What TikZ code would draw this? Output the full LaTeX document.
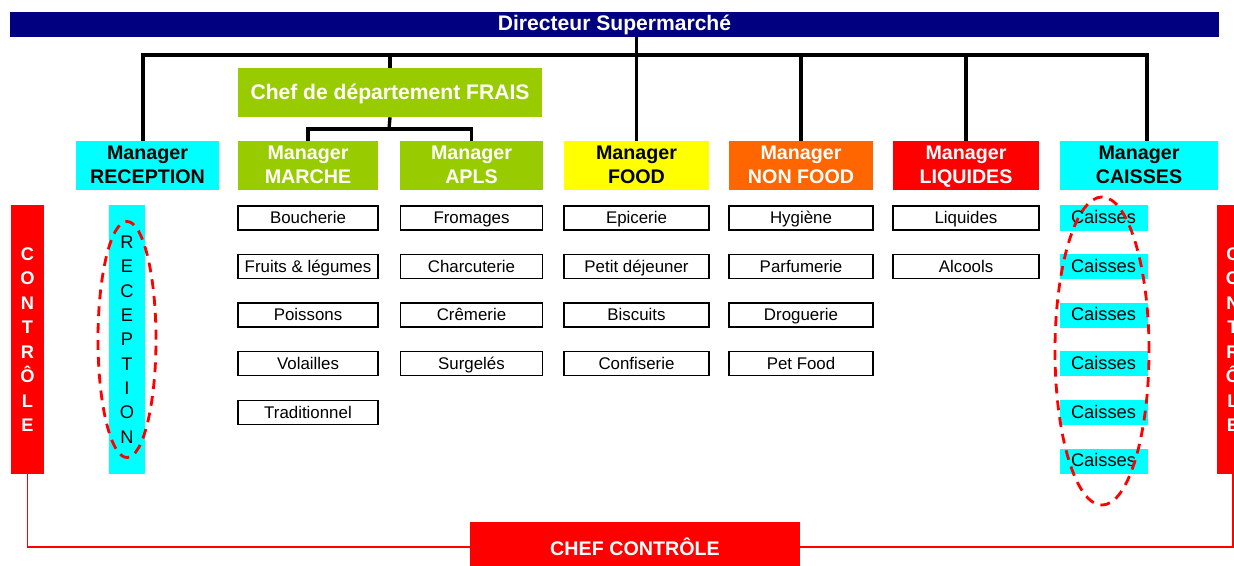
\documentclass[tikz,border=0pt]{standalone}
\usepackage{fontspec}
\setmainfont{Liberation Sans}
\definecolor{navy}{HTML}{000080}
\definecolor{aqua}{HTML}{00FFFF}
\definecolor{fraisgreen}{HTML}{99CC00}
\definecolor{orng}{HTML}{FF6600}
\definecolor{rouge}{HTML}{FF0000}
\definecolor{jaune}{HTML}{FFFF00}
\tikzset{
	mgr/.style={minimum width=3.55cm,minimum height=1.225cm,inner sep=0pt,text depth=1pt,
		align=center,font=\fontsize{14}{17}\selectfont\bfseries},
	item/.style={draw,line width=1.1pt,minimum width=3.55cm,minimum height=0.6cm,
		inner sep=0pt,text height=8.5pt,text depth=0.5pt,font=\fontsize{12}{14}\selectfont},
	caisse/.style={fill=aqua,minimum width=2.2cm,minimum height=0.625cm,
		inner sep=0pt,text height=9pt,text depth=0.5pt,font=\fontsize{13}{15}\selectfont},
	vbar/.style={minimum width=0.8cm,minimum height=6.725cm,inner sep=0pt,align=center},
	tree/.style={line width=2.4pt},
	dashred/.style={rouge,line width=2pt,dash pattern=on 7pt off 5pt},
	redline/.style={rouge,line width=1.4pt}
}
\begin{document}
\begin{tikzpicture}[x=0.025cm,y=-0.025cm]
	\useasboundingbox (0,0) rectangle (1234,565);
	\clip (0,0) rectangle (1234,565);
	% top of the tree
	\node[fill=navy,text=white,minimum width=30.225cm,minimum height=0.625cm,inner sep=0pt,
		font=\fontsize{15}{17}\selectfont\bfseries] (dir) at (614.5,24.5) {Directeur Supermarché};
	\node[mgr,fill=fraisgreen,text=white,minimum width=7.6cm,font=\fontsize{15}{17}\selectfont\bfseries]
		(frais) at (390,92.5) {Chef de département FRAIS};
	% managers
	\node[mgr,fill=aqua] (rec) at (147.5,165.5) {Manager\\RECEPTION};
	\node[mgr,fill=fraisgreen,text=white,minimum width=3.5cm] (mar) at (308,165.5) {Manager\\MARCHE};
	\node[mgr,fill=fraisgreen,text=white] (apls) at (471.5,165.5) {Manager\\APLS};
	\node[mgr,fill=jaune,minimum width=3.63cm] (food) at (636.5,165.5) {Manager\\FOOD};
	\node[mgr,fill=orng,text=white,minimum width=3.6cm] (nfood) at (801,165.5) {Manager\\NON FOOD};
	\node[mgr,fill=rouge,text=white,minimum width=3.65cm] (liq) at (966,165.5) {Manager\\LIQUIDES};
	\node[mgr,fill=aqua,minimum width=3.95cm] (cais) at (1139,165.5) {Manager\\CAISSES};
	% connectors
	\coordinate (bl) at (143,55);
	\coordinate (br) at (1147,55);
	\coordinate (fj) at (389,129);
	\draw[tree] (rec.north -| bl) -- (bl) -- (br) -- (cais.north -| br);
	\draw[tree] (frais.north) -- (frais.north |- bl);
	\draw[tree] (dir.south -| food.north) -- (food.north);
	\draw[tree] (nfood.north) -- (nfood.north |- bl);
	\draw[tree] (liq.north) -- (liq.north |- bl);
	\draw[tree] (frais.south) -- (fj);
	\draw[tree] (mar.north) |- (fj) -| (apls.north);
	% rayons
	\node[item,minimum width=3.5cm] (bou) at (308,218) {Boucherie};
	\node[item,minimum width=3.5cm] (fru) at (308,266.5) {Fruits \& légumes};
	\node[item,minimum width=3.5cm] (poi) at (308,315) {Poissons};
	\node[item,minimum width=3.5cm] (vol) at (308,363.5) {Volailles};
	\node[item,minimum width=3.5cm] (tra) at (308,412.5) {Traditionnel};
	\node[item] (fro) at (471.5,218) {Fromages};
	\node[item] (cha) at (471.5,266.5) {Charcuterie};
	\node[item] (cre) at (471.5,315) {Crêmerie};
	\node[item] (sur) at (471.5,363.5) {Surgelés};
	\node[item,minimum width=3.63cm] (epi) at (636.5,218) {Epicerie};
	\node[item,minimum width=3.63cm] (pdj) at (636.5,266.5) {Petit déjeuner};
	\node[item,minimum width=3.63cm] (bis) at (636.5,315) {Biscuits};
	\node[item,minimum width=3.63cm] (con) at (636.5,363.5) {Confiserie};
	\node[item,minimum width=3.6cm] (hyg) at (801,218) {Hygiène};
	\node[item,minimum width=3.6cm] (par) at (801,266.5) {Parfumerie};
	\node[item,minimum width=3.6cm] (dro) at (801,315) {Droguerie};
	\node[item,minimum width=3.6cm] (pet) at (801,363.5) {Pet Food};
	\node[item,minimum width=3.65cm] (liqs) at (966,218) {Liquides};
	\node[item,minimum width=3.65cm] (alc) at (966,266.5) {Alcools};
	% caisses
	\node[caisse] (c1) at (1103.5,218) {Caisses};
	\node[caisse] (c2) at (1103.5,266.5) {Caisses};
	\node[caisse] (c3) at (1103.5,315) {Caisses};
	\node[caisse] (c4) at (1103.5,363.5) {Caisses};
	\node[caisse] (c5) at (1103.5,412.5) {Caisses};
	\node[caisse] (c6) at (1103.5,461) {Caisses};
	\coordinate (cc) at (1102,351);
	\draw[dashred] (cc) ellipse [x radius=1.175cm,y radius=3.85cm];
	% reception
	\node[vbar,fill=aqua,minimum width=0.875cm,font=\fontsize{13}{17.3}\selectfont]
		(recbar) at (127,339.5) {R\\E\\C\\E\\P\\T\\I\\O\\N};
	\draw[dashred] (recbar.center) ellipse [x radius=0.725cm,y radius=2.95cm];
	% controle
	\node[vbar,fill=rouge,text=white,font=\fontsize{13}{17.4}\selectfont\bfseries]
		(ctrll) at (27.5,339.5) {C\\O\\N\\T\\R\\Ô\\L\\E};
	\node[vbar,fill=rouge,text=white,font=\fontsize{13}{17.4}\selectfont\bfseries]
		(ctrlr) at (1233,339.5) {C\\O\\N\\T\\R\\Ô\\L\\E};
	\node[fill=rouge,text=white,minimum width=8.25cm,minimum height=1.25cm,inner sep=0pt,
		font=\fontsize{14}{17}\selectfont\bfseries] (chef) at (635,547) {CHEF CONTRÔLE};
	\draw[redline] (ctrll.south) |- (chef.west);
	\draw[redline] (chef.east) -| (ctrlr.south);
\end{tikzpicture}
\end{document}
